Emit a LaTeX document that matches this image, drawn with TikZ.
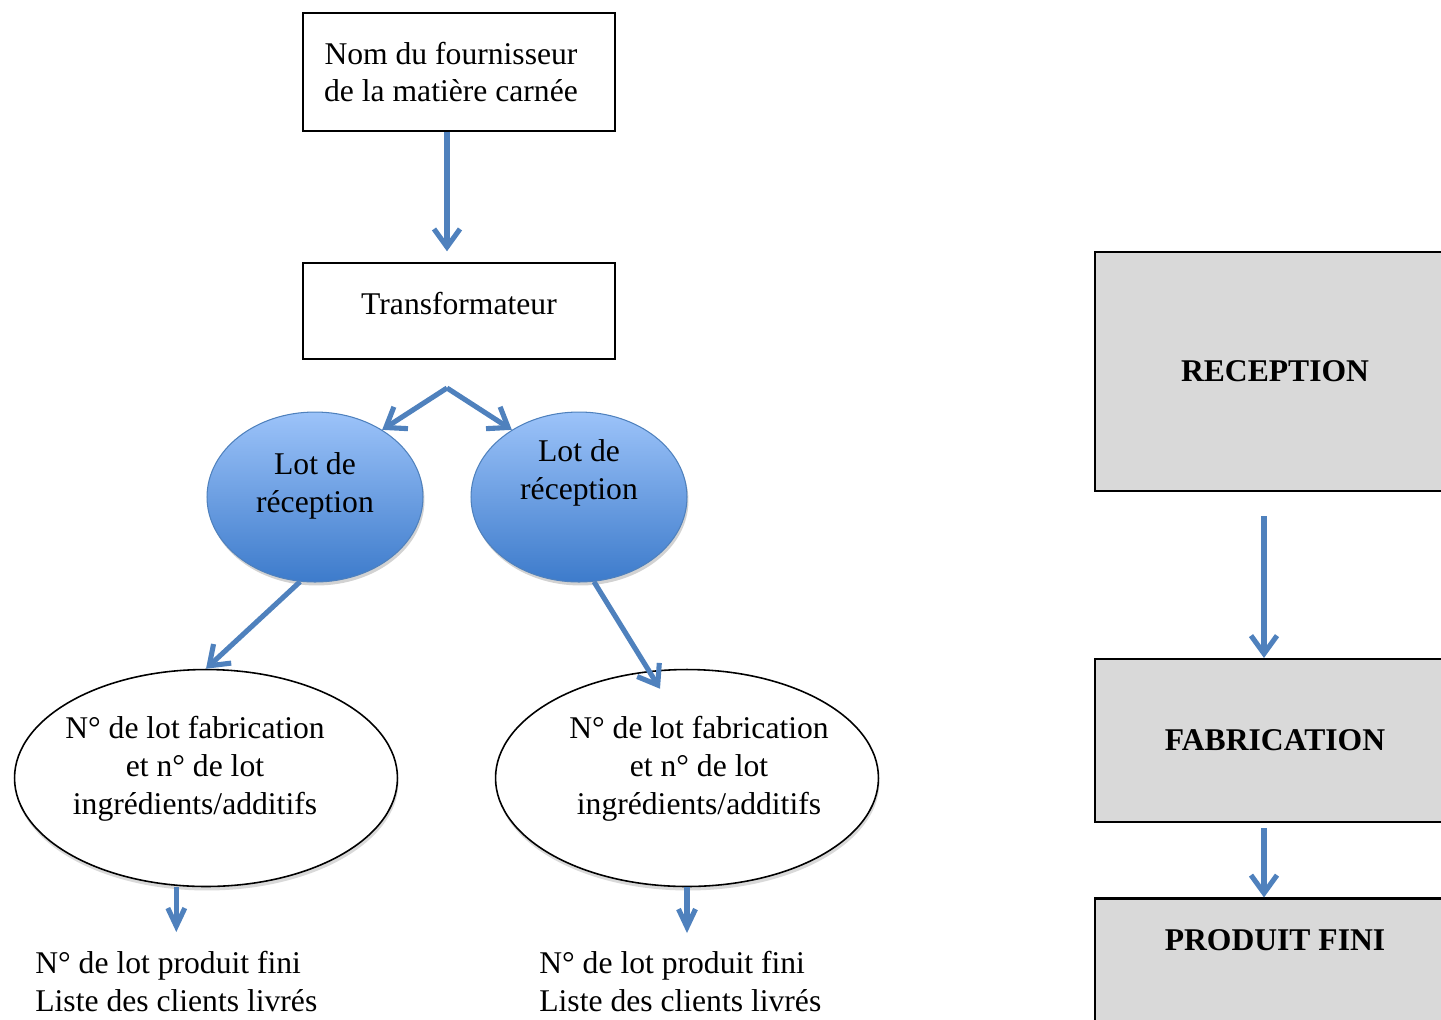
\documentclass[tikz,border=0pt]{standalone}
\usepackage{fontspec}
\setmainfont{Liberation Serif}
\usetikzlibrary{arrows,arrows.meta,positioning,shapes.geometric,shadows}
\definecolor{flowblue}{HTML}{4F81BD}
\definecolor{lotlight}{HTML}{9CC3F9}
\definecolor{lotdark}{HTML}{3D7BCB}
\definecolor{stagegray}{HTML}{D9D9D9}

\begin{document}
\begin{tikzpicture}[x=0.02cm,y=-0.02cm]
\tikzstyle{every node}=[font=\fontsize{18}{21.5}\selectfont,inner sep=0pt]
\tikzstyle{srcbox}=[rectangle,draw,line width=0.8pt,minimum width=6.24cm,align=center]
\tikzstyle{lotell}=[ellipse,draw=flowblue,line width=0.6pt,top color=lotlight,bottom color=lotdark,minimum width=4.32cm,minimum height=3.4cm,align=center,drop shadow={shadow xshift=0.03cm,shadow yshift=-0.07cm,fill=black!35,opacity=0.5}]
\tikzstyle{fabell}=[ellipse,draw,line width=0.9pt,fill=white,minimum width=7.66cm,minimum height=4.34cm,align=center,drop shadow={shadow xshift=0.02cm,shadow yshift=-0.08cm,fill=black!25,opacity=0.6}]
\tikzstyle{result}=[align=left,anchor=north west]
\tikzstyle{stagebox}=[rectangle,draw,fill=stagegray,line width=1.2pt,minimum width=7.2cm,font=\fontsize{18}{21.5}\selectfont\bfseries]
\tikzstyle{flow}=[draw=flowblue,line width=2.9pt,-{Straight Barb[length=0.36cm,width=0.52cm]}]
\tikzstyle{flowsmall}=[draw=flowblue,line width=2.9pt,-{Straight Barb[length=0.36cm,width=0.34cm]}]

\useasboundingbox (0,0) rectangle (1441,1019);
\clip (0,0) rectangle (1441,1019);

\node[srcbox,minimum height=2.36cm] (fourn) at (459,72) {\hspace*{-0.32cm}Nom du fournisseur\\\hspace*{-0.32cm}de la matière carnée};
\node[srcbox,minimum height=1.92cm,text depth=0.32cm] (transf) at (459,311) {Transformateur};
\coordinate (split) at (447,388);

\node[lotell,text depth=0.58cm] (lotA) at (315,497) {Lot de\\réception};
\node[lotell,text depth=1.1cm] (lotB) at (579,497) {Lot de\\réception};

\node[fabell,text depth=0.5cm] (fabA) at (206,778) {\hspace*{-0.44cm}N° de lot fabrication\\\hspace*{-0.44cm}et n° de lot\\\hspace*{-0.44cm}ingrédients/additifs};
\node[fabell,text depth=0.5cm] (fabB) at (687,778) {N° de lot fabrication\hspace*{-0.48cm}\null\\et n° de lot\hspace*{-0.48cm}\null\\ingrédients/additifs\hspace*{-0.48cm}\null};

\node[result] (resA) at (35,951) {N° de lot produit fini\\Liste des clients livrés};
\node[result] (resB) at (539,951) {N° de lot produit fini\\Liste des clients livrés};

\node[stagebox,minimum height=4.78cm] (recep) at (1275,371.5) {RECEPTION};
\node[stagebox,minimum height=3.26cm] (fabr) at (1275,740.5) {FABRICATION};
\node[stagebox,minimum height=3.26cm,text depth=1.6cm] (fini) at (1275,980) {PRODUIT FINI};

\draw[flow,shorten >=0.22cm] (fourn.south -| split) -- (transf.north -| split);
\draw[flow] (split) -- (lotA.45);
\draw[flow] (split) -- (lotB.135);
\draw[flow] (lotA.-100) -- (fabA.north);
\draw[flow] (lotB.-80) -- ([shift={(-27,20)}]fabB.north);
\draw[flowsmall,shorten >=0.38cm] (fabA.south -| resA.north) -- (resA.north);
\draw[flowsmall,shorten >=0.36cm] (fabB.south) -- (fabB.south |- resB.north);
\draw[flow] ([xshift=-0.22cm,yshift=-0.48cm]recep.south) -- ([xshift=-0.22cm]fabr.north);
\draw[flow] ([xshift=-0.22cm,yshift=-0.1cm]fabr.south) -- ([xshift=-0.22cm]fini.north);
\end{tikzpicture}
\end{document}
